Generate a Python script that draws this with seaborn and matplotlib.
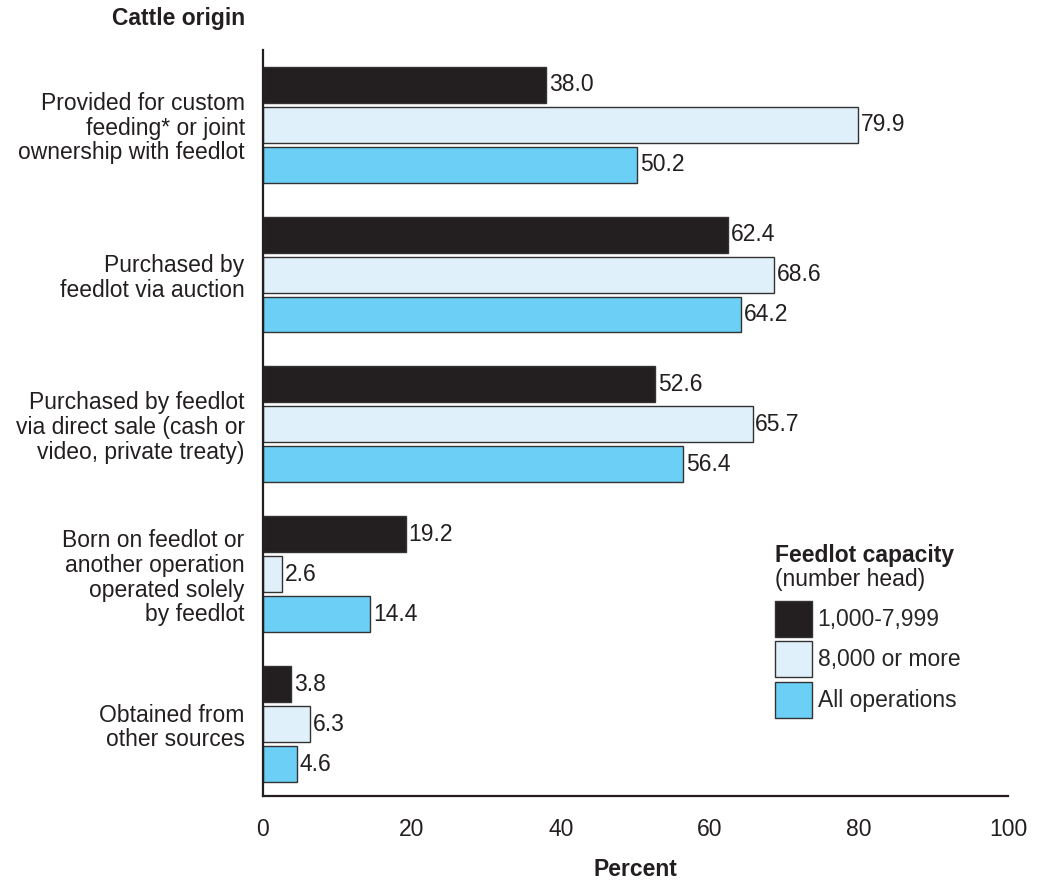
import matplotlib
matplotlib.use("Agg")
import matplotlib.pyplot as plt
import seaborn as sns
import pandas as pd

# ---------------------------------------------------------------------------
# Data
# ---------------------------------------------------------------------------
categories = [
    "Provided for custom\nfeeding* or joint\nownership with feedlot",
    "Purchased by\nfeedlot via auction",
    "Purchased by feedlot\nvia direct sale (cash or\nvideo, private treaty)",
    "Born on feedlot or\nanother operation\noperated solely\nby feedlot",
    "Obtained from\nother sources",
]
groups = ["1,000-7,999", "8,000 or more", "All operations"]
small_ops = [38.0, 62.4, 52.6, 19.2, 3.8]
large_ops = [79.9, 68.6, 65.7, 2.6, 6.3]
all_ops = [50.2, 64.2, 56.4, 14.4, 4.6]

colors = ["#231f20", "#dff0fb", "#6ccff6"]
FS = 16.5

df = pd.DataFrame({
    "origin": categories * 3,
    "capacity": [g for g in groups for _ in categories],
    "percent": small_ops + large_ops + all_ops,
})

# ---------------------------------------------------------------------------
# Plot
# ---------------------------------------------------------------------------
sns.set_style("white")
plt.rcParams["font.family"] = ["Liberation Sans", "DejaVu Sans"]

fig = plt.figure(figsize=(10.47, 8.81), dpi=100)
ax = fig.add_axes([0.251, 0.0965, 0.712, 0.8465])

sns.barplot(data=df, y="origin", x="percent", hue="capacity",
            order=categories, hue_order=groups, palette=colors,
            orient="h", width=0.8, gap=0.1, edgecolor="#333333",
            linewidth=1.0, saturation=1, legend=True, ax=ax)

for cont in ax.containers:
    ax.bar_label(cont, fmt="%.1f", padding=2, fontsize=FS, color="#231f20")

ax.set_xlim(0, 100)
ax.set_ylim(4.48, -0.497)
ax.set_xticks([0, 20, 40, 60, 80, 100])
ax.tick_params(axis="x", length=0, pad=16, labelsize=FS, colors="#231f20")
ax.tick_params(axis="y", length=0, pad=13, labelsize=FS, colors="#231f20")
for lab in ax.get_yticklabels():
    lab.set_multialignment("right")
    lab.set_linespacing(1.1)

ax.set_ylabel("")
ax.set_xlabel("Percent", fontsize=FS, fontweight="bold", labelpad=12,
              color="#231f20")

sns.despine(ax=ax)
for side in ["left", "bottom"]:
    ax.spines[side].set_color("#231f20")
    ax.spines[side].set_linewidth(1.6)

fig.text(0.234, 0.979, "Cattle origin", fontsize=FS, fontweight="bold",
         color="#231f20", va="center", ha="right")

# legend
handles, labels = ax.get_legend_handles_labels()
ax.legend(handles, labels, loc="upper left", bbox_to_anchor=(0.687, 0.262),
          frameon=False, fontsize=FS, handlelength=1.61, handleheight=2.04,
          labelspacing=0.2, handletextpad=0.25, borderaxespad=0,
          borderpad=0)
ax.text(0.687, 0.323, "Feedlot capacity", transform=ax.transAxes,
        fontsize=FS, fontweight="bold", color="#231f20", va="center")
ax.text(0.687, 0.29, "(number head)", transform=ax.transAxes,
        fontsize=FS, color="#231f20", va="center")

fig.savefig("out.png", dpi=100)
